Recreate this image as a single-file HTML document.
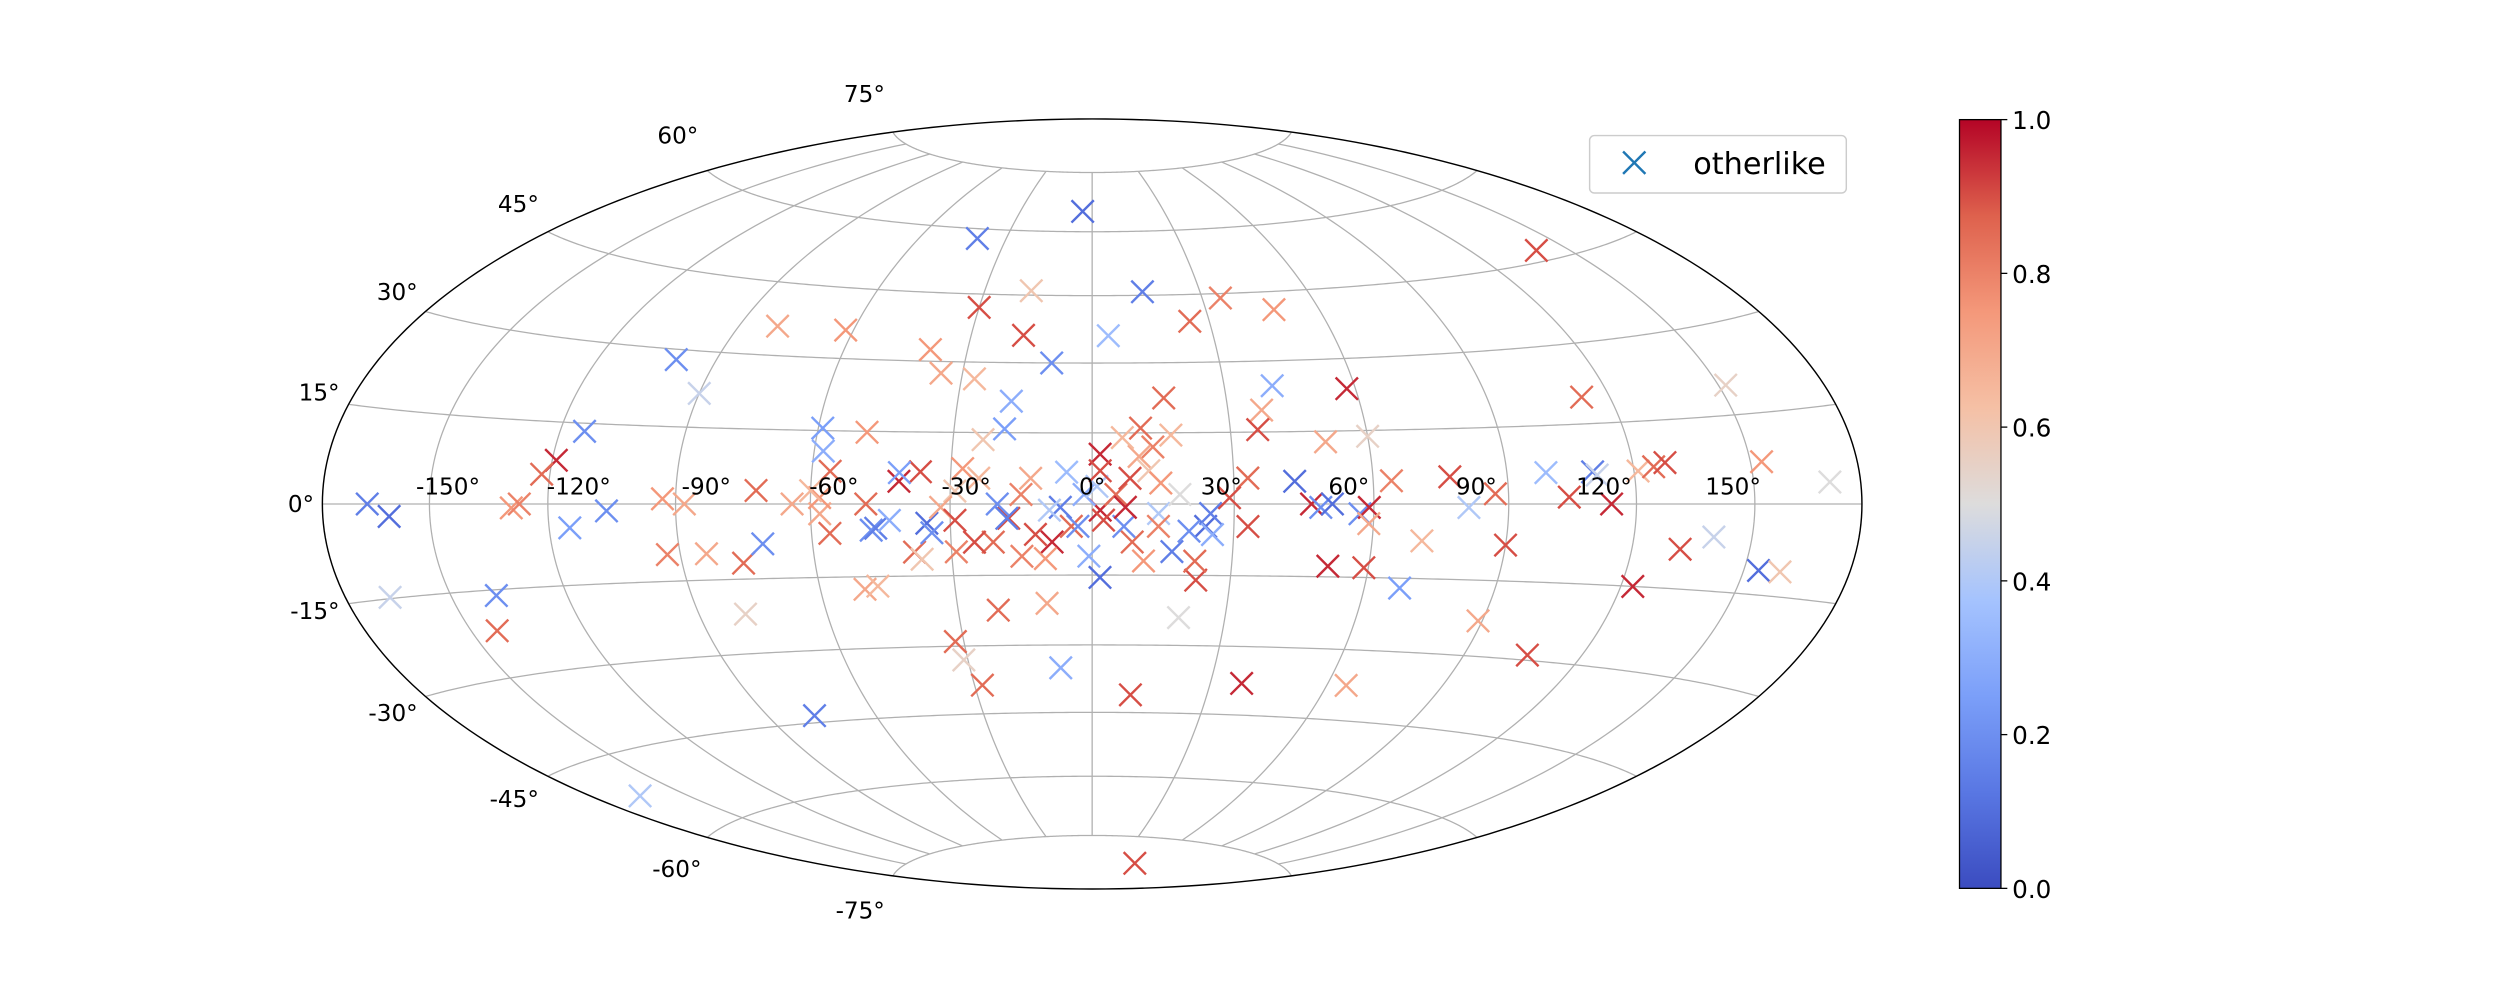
<!DOCTYPE html>
<html><head><meta charset="utf-8"><style>
html,body{margin:0;padding:0;background:#fff;}
svg{display:block;font-family:"DejaVu Sans","Liberation Sans",sans-serif;}
</style></head><body>
<svg id="chart" width="2500" height="1000" viewBox="0 0 1568 627" preserveAspectRatio="none" xmlns="http://www.w3.org/2000/svg">
<g id="grid"></g>
<g id="marks"></g>
<path id="outline" fill="none" stroke="#000" stroke-width="0.9"/>
<g id="lonlabels" font-size="14.5" text-anchor="middle"></g>
<g id="latlabels" font-size="14.5" text-anchor="end"></g>
<g>
<rect x="997" y="85" width="161" height="36" rx="3" fill="#fff" stroke="#cccccc" stroke-width="0.9"/>
<g stroke="#1f77b4" stroke-width="1.5"><line x1="1018" y1="95" x2="1032" y2="109"/><line x1="1018" y1="109" x2="1032" y2="95"/></g>
<text x="1062" y="109" font-size="19">otherlike</text>
</g>
<defs><linearGradient id="cg" x1="0" y1="1" x2="0" y2="0">
<stop offset="0" stop-color="#3b4cc0"/><stop offset="0.125" stop-color="#5977e3"/><stop offset="0.25" stop-color="#7b9ff9"/><stop offset="0.375" stop-color="#a5c3fe"/><stop offset="0.5" stop-color="#dddcdc"/><stop offset="0.625" stop-color="#f5c0a5"/><stop offset="0.75" stop-color="#f4987a"/><stop offset="0.875" stop-color="#de614d"/><stop offset="1" stop-color="#b40426"/>
</linearGradient></defs>
<rect x="1229" y="75" width="26" height="482" fill="url(#cg)" stroke="#000" stroke-width="0.8"/>
<g id="cbticks" font-size="15.5"></g>
</svg>
<script>
const lons=[-4,-40,140,14,-17,-30,35,48,25,-17,4,-100,-80,-62,-39,-35,-27,-9.5,-90,-49,-59,-58,-18,-19,-23.5,-24,16,10.5,13,17,41,37.5,36,58,50.5,60,152,113,-114,-119,-122,-167,-161,-167,-138,-143,-115,-106,-129,-127,-93,-88,-93,-84,-72,-76,-71,-79,-77,-165,-56,-58,-58,-56,-47,-46,-50,-47,-38,-41,-36.5,-41,-35,-34,-32,-31,-28,-21,-10,-7.7,10,38,50,19.5,22.5,22,24,25,20.5,17,33,33,43,46.5,48.5,51,57,59,51,59,68,71,64,59,77,81,87,90,89,106,99,104,110,114,111,121,125,128,132,123,140,153,154,160,171,65,-12,-8.5,-4.4,1.7,2.4,5,8,1.7,10,12,14.5,8.5,6.7,1.7,-0.7,-3,-6.7,-1.7,1,-5.4,-15,-17.6,-21,-25,-29,-20,-18,-9,-10,-15,-13,6.5,14,18.5,25.5,29,-29,-32,-36.5,-43,-48,-29,-27.5,-64,-60,1.7,7,11,14];
const lats=[65,57.7,47,45.8,46,42,44,41,39,36,36,28,36,36,32.5,27.5,26.4,30,21.7,14.8,15.5,10.8,21.7,15.8,13.5,5.4,22.4,16,12,14.5,24.7,19.6,15.5,23.7,12.8,13.8,20,20,13.5,8,5.4,0,-2,-14.8,-16,-22,-4.4,-1.3,-0.7,0,1,0,-9.8,-9.8,2.7,-11.8,-8,-22,-43.5,-52,-6,-2,1.3,6.7,-5.4,-5,-17.6,-17,-10,4.7,6.7,6.5,-4,-6,-29,-33,-38.6,-22.4,-21,-35,-41,-38,-82,-24,-16,-12,-4.7,-2,-5.7,-10,-4.7,5.4,4.7,0,-0.7,0,-2,-0.7,-12.8,-13,-17,-7.4,4.7,-4,5.4,-0.7,2,-8,-23,-29,6,1.3,6,0,5.4,6,6.7,7.4,-8,-15,-5.7,7,-11,-11,3.4,-37.5,-6.4,-8,-4.7,-1.3,-3.4,2,5.4,10.5,10,7,4.4,-8,-4.7,-15.5,-11,-4.7,-0.7,2,3.7,6.7,2,-3,-8,-8,-10,0,-3,-1.3,-11.5,-11,5.4,14,-2,2,-6.4,1.3,2.7,-0.7,-11.5,-3.4,0,-3.4,7.4,0,2.7,7,-0.7,-12,-4.7];
const vals=[0.1,0.15,0.9,0.15,0.6,0.9,0.8,0.75,0.85,0.9,0.35,0.2,0.7,0.75,0.75,0.7,0.65,0.2,0.45,0.75,0.25,0.3,0.3,0.25,0.6,0.65,0.85,0.85,0.8,0.65,0.3,0.7,0.9,0.95,0.7,0.55,0.55,0.85,0.2,0.95,0.85,0.15,0.1,0.45,0.2,0.85,0.25,0.2,0.75,0.8,0.75,0.7,0.8,0.7,0.85,0.85,0.2,0.55,0.15,0.4,0.85,0.7,0.75,0.85,0.2,0.15,0.7,0.65,0.85,0.95,0.9,0.25,0.1,0.2,0.85,0.55,0.85,0.85,0.7,0.3,0.9,0.95,0.9,0.5,0.9,0.85,0.1,0.15,0.2,0.15,0.9,0.85,0.1,0.95,0.2,0.1,0.2,0.95,0.95,0.9,0.25,0.65,0.8,0.7,0.9,0.4,0.85,0.9,0.7,0.9,0.35,0.9,0.15,0.95,0.45,0.65,0.85,0.9,0.9,0.95,0.45,0.75,0.1,0.6,0.5,0.7,0.9,0.95,0.85,0.95,0.9,0.85,0.9,0.95,0.7,0.6,0.75,0.85,0.2,0.1,0.3,0.2,0.15,0.3,0.4,0.35,0.8,0.9,0.85,0.9,0.8,0.2,0.15,0.4,0.75,0.8,0.7,0.65,0.4,0.5,0.3,0.9,0.6,0.7,0.6,0.3,0.85,0.9,0.75,0.7,0.65,0.9,0.95,0.75,0.8];
const lonTicks=[-150,-120,-90,-60,-30,0,30,60,90,120,150];
const latTicks=[75,60,45,30,15,0,-15,-30,-45,-60,-75];
const cbTicks=[0,0.2,0.4,0.6,0.8,1.0];

const NS="http://www.w3.org/2000/svg";
const CX=685,CY=316,K=170.7;
const R=Math.PI/180;
function proj(lon,lat){const l=lon*R,p=lat*R;const d=Math.sqrt(1+Math.cos(p)*Math.cos(l/2));
return [CX+K*2*Math.SQRT2*Math.cos(p)*Math.sin(l/2)/d, CY-K*Math.SQRT2*Math.sin(p)/d];}
function mk(tag,parent,attrs){const e=document.createElementNS(NS,tag);for(const k in attrs)e.setAttribute(k,attrs[k]);parent.appendChild(e);return e;}
function linePath(pts){return pts.map((p,i)=>(i?'L':'M')+p[0].toFixed(2)+' '+p[1].toFixed(2)).join(' ');}

const grid=document.getElementById('grid');
for(let lon=-150;lon<=150;lon+=30){const pts=[];for(let la=-75;la<=75;la+=1)pts.push(proj(lon,la));
const e=mk('path',grid,{d:linePath(pts),fill:'none',stroke:'#b0b0b0','stroke-width':0.8});

}
for(let lat=-75;lat<=75;lat+=15){const pts=[];for(let lo=-180;lo<=180;lo+=1)pts.push(proj(lo,lat));
const e=mk('path',grid,{d:linePath(pts),fill:'none',stroke:'#b0b0b0','stroke-width':0.8});

}
{const pts=[];for(let la=-90;la<=90;la+=1)pts.push(proj(180,la));for(let la=90;la>=-90;la-=1)pts.push(proj(-180,la));
document.getElementById('outline').setAttribute('d',linePath(pts)+'Z');}

const stops=[[59,76,192],[89,119,227],[123,159,249],[165,195,254],[221,220,220],[245,192,165],[244,152,122],[222,97,77],[180,4,38]];
function cmap(v){v=Math.max(0,Math.min(1,v));const t=v*8,i=Math.min(7,Math.floor(t)),f=t-i;const a=stops[i],b=stops[i+1];
return 'rgb('+a.map((c,j)=>Math.round(c+(b[j]-c)*f)).join(',')+')';}

const marks=document.getElementById('marks');
for(let i=0;i<lons.length;i++){const [x,y]=proj(lons[i],lats[i]);const s=7;
const g=mk('g',marks,{stroke:cmap(vals[i]),'stroke-width':1.5});


mk('line',g,{x1:x-s,y1:y-s,x2:x+s,y2:y+s});mk('line',g,{x1:x-s,y1:y+s,x2:x+s,y2:y-s});}

const lonL=document.getElementById('lonlabels');
const lonLabelX=[281,363,443,523,606,685,766,846,926,1006,1087];
lonTicks.forEach((t,i)=>{const e=mk('text',lonL,{x:lonLabelX[i],y:310});e.textContent=t+'°';

});
const latL=document.getElementById('latlabels');
const latLabelPos=[[555,64],[438,90],[338,133],[262,188],[213,251],[197,321],[213,388],[262,452],[338,506],[440,550],[555,576]];
latTicks.forEach((t,i)=>{const e=mk('text',latL,{x:latLabelPos[i][0],y:latLabelPos[i][1]});e.textContent=t+'°';

});

const cb=document.getElementById('cbticks');
cbTicks.forEach(t=>{const y=557-t*482;
const l=mk('line',cb,{x1:1255,y1:y,x2:1259,y2:y,stroke:'#000','stroke-width':0.8});


const e=mk('text',cb,{x:1262,y:y+6});e.textContent=t.toFixed(1);

});
</script>
</body></html>
